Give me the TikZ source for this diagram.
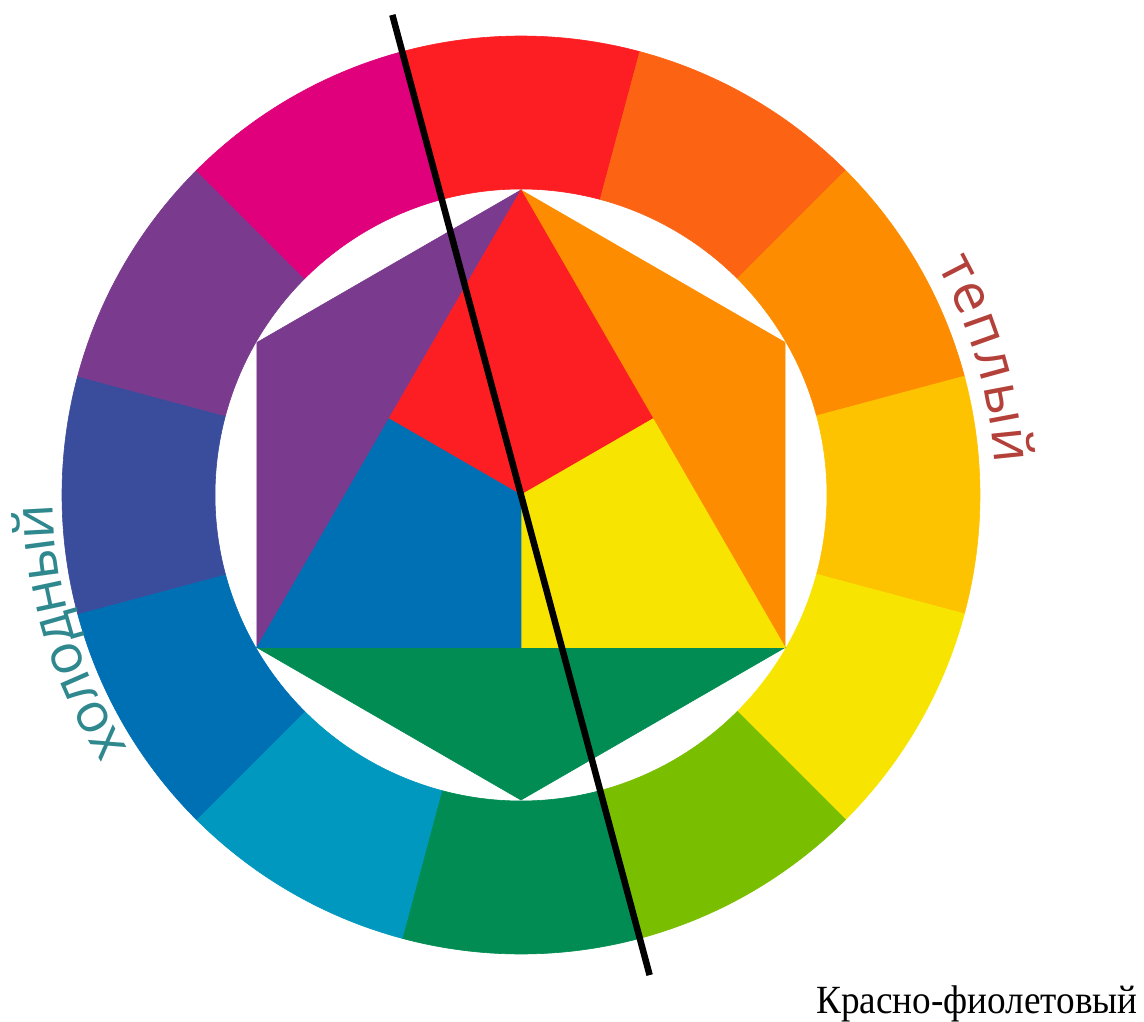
\documentclass[tikz,border=0pt]{standalone}
\usepackage{fontspec}
\setmainfont{Liberation Serif}
\newfontfamily\wheelfont{Open Sans}
\usepackage{tikz}
\usetikzlibrary{calc}
\definecolor{WRed}{RGB}{252,30,34}
\definecolor{WRedOrange}{RGB}{252,100,20}
\definecolor{WOrange}{RGB}{254,140,0}
\definecolor{WYellowOrange}{RGB}{254,195,0}
\definecolor{WYellow}{RGB}{247,228,0}
\definecolor{WYellowGreen}{RGB}{122,190,0}
\definecolor{WGreen}{RGB}{0,140,82}
\definecolor{WBlueGreen}{RGB}{0,152,190}
\definecolor{WBlue}{RGB}{0,112,180}
\definecolor{WBlueViolet}{RGB}{58,76,156}
\definecolor{WViolet}{RGB}{122,58,142}
\definecolor{WRedViolet}{RGB}{224,0,124}
\definecolor{WTeal}{RGB}{46,136,142}
\definecolor{WBrick}{RGB}{180,64,58}

\begin{document}
\begin{tikzpicture}[
  x=1pt,y=1pt,
  seg/.style={fill=#1,draw=#1,line width=0.6pt},
  cut/.style={line width=6.5pt,black},
  arcletter/.style={font=\wheelfont\fontsize{55}{62}\selectfont,text=#1,
    inner sep=0pt,anchor=base}
]
  \useasboundingbox (-521,-526) rectangle (623,495);

  % outer ring, red on top, clockwise
  \foreach \col [count=\i from 0] in {WRed,WRedOrange,WOrange,WYellowOrange,
      WYellow,WYellowGreen,WGreen,WBlueGreen,WBlue,WBlueViolet,WViolet,WRedViolet}{
    \pgfmathsetmacro\a{105-30*\i}
    \pgfmathsetmacro\b{75-30*\i}
    \fill[seg=\col] (\a:306) arc[start angle=\a,end angle=\b,radius=306]
      -- (\b:459) arc[start angle=\b,end angle=\a,radius=459] -- cycle;
  }

  % hexagon and central triangle
  \coordinate (c) at (0,0);
  \coordinate (top) at (90:305);
  \coordinate (ur) at (30:305);
  \coordinate (lr) at (-30:305);
  \coordinate (bot) at (-90:305);
  \coordinate (ll) at (210:305);
  \coordinate (ul) at (150:305);
  \coordinate (ml) at ($(top)!.5!(ll)$);
  \coordinate (mr) at ($(top)!.5!(lr)$);
  \coordinate (mb) at ($(ll)!.5!(lr)$);

  \fill[seg=WViolet] (top) -- (ul) -- (ll) -- cycle;
  \fill[seg=WOrange] (top) -- (ur) -- (lr) -- cycle;
  \fill[seg=WGreen] (ll) -- (lr) -- (bot) -- cycle;
  \fill[seg=WRed] (top) -- (mr) -- (c) -- (ml) -- cycle;
  \fill[seg=WYellow] (mr) -- (lr) -- (mb) -- (c) -- cycle;
  \fill[seg=WBlue] (ml) -- (c) -- (mb) -- (ll) -- cycle;

  % dividing line
  \coordinate (cutTop) at (105:497);
  \coordinate (cutBot) at (285:497);
  \draw[cut] (cutTop) -- (cutBot);

  % labels, one letter at a time round the ring
  \foreach \ch/\ang [count=\k] in {х/210.96,о/207.41,л/203.60,о/199.79,
      д/195.99,н/192.09,ы/187.63,й/183.15}
    \node[arcletter=WTeal,rotate=\ang-90] (cold-\k) at (\ang:468) {\ch};
  \foreach \ch/\ang [count=\k] in {т/27.32,е/23.72,п/19.60,л/15.38,ы/10.69,й/5.87}
    \node[arcletter=WBrick,rotate=\ang-90] (warm-\k) at (\ang:475) {\ch};
  \node[anchor=base east,inner sep=0pt,xscale=0.93,
    font=\fontsize{40}{48}\selectfont] (redviolet)
    at (617,-518) {Красно-фиолетовый};
\end{tikzpicture}
\end{document}
